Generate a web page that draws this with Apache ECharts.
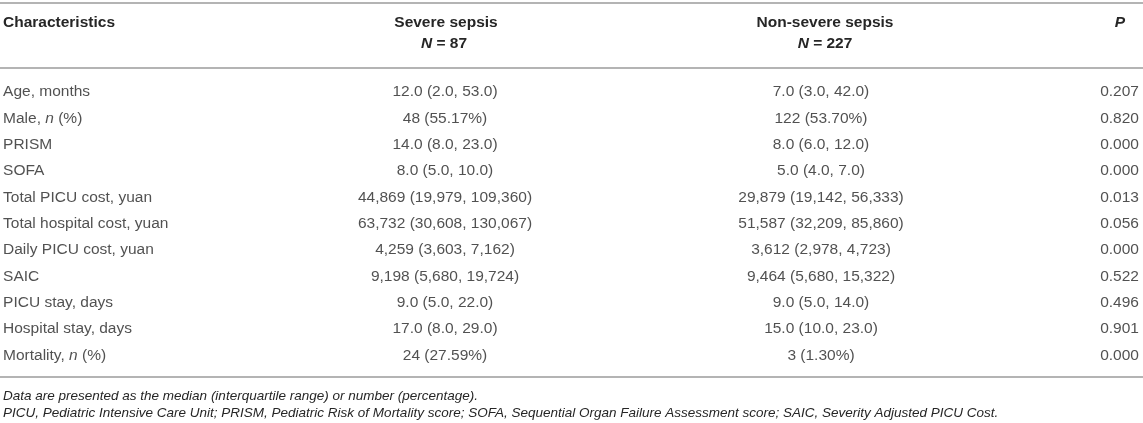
<!DOCTYPE html>
<html>
<head>
<meta charset="utf-8">
<script src="https://cdn.jsdelivr.net/npm/echarts/dist/echarts.min.js"></script>
<style>
html, body {margin: 0; padding: 0; background: #fff;}
#main {width: 1143px; height: 423px;}
</style>
</head>
<body>
<div id="main"></div>
<script>
// table contents
var rowNames = ['Age, months', 'Male, n (%)', 'PRISM', 'SOFA', 'Total PICU cost, yuan',
    'Total hospital cost, yuan', 'Daily PICU cost, yuan', 'SAIC', 'PICU stay, days',
    'Hospital stay, days', 'Mortality, n (%)'];
var severeValues = ['12.0 (2.0, 53.0)', '48 (55.17%)', '14.0 (8.0, 23.0)', '8.0 (5.0, 10.0)',
    '44,869 (19,979, 109,360)', '63,732 (30,608, 130,067)', '4,259 (3,603, 7,162)',
    '9,198 (5,680, 19,724)', '9.0 (5.0, 22.0)', '17.0 (8.0, 29.0)', '24 (27.59%)'];
var nonSevereValues = ['7.0 (3.0, 42.0)', '122 (53.70%)', '8.0 (6.0, 12.0)', '5.0 (4.0, 7.0)',
    '29,879 (19,142, 56,333)', '51,587 (32,209, 85,860)', '3,612 (2,978, 4,723)',
    '9,464 (5,680, 15,322)', '9.0 (5.0, 14.0)', '15.0 (10.0, 23.0)', '3 (1.30%)'];
var pValues = ['0.207', '0.820', '0.000', '0.000', '0.013', '0.056', '0.000', '0.522',
    '0.496', '0.901', '0.000'];
var groupNames = ['Severe sepsis', 'Non-severe sepsis'];
var groupSizes = ['87', '227'];
var notes = ['Data are presented as the median (interquartile range) or number (percentage).',
    'PICU, Pediatric Intensive Care Unit; PRISM, Pediatric Risk of Mortality score; SOFA, Sequential Organ Failure Assessment score; SAIC, Severity Adjusted PICU Cost.'];

var textColor = '#262626';
var ruleColor = '#b4b4b4';
var fontFamily = '"Liberation Sans", Arial, Helvetica, sans-serif';
var fontSize = 15.5;
var colX = [3, 445, 821, 1139]; // column anchors (px)

function cellSeries(values, x, pos) {
    return {
        type: 'scatter',
        symbolSize: 0.1,
        silent: true,
        itemStyle: {color: 'rgba(0,0,0,0)'},
        data: values.map(function (v, i) {
            return [x, rowNames[i]];
        }),
        label: {
            show: true,
            position: pos,
            distance: 0,
            color: textColor,
            fontSize: fontSize,
            fontFamily: fontFamily,
            formatter: function (p) {
                return values[p.dataIndex].replace(', n (', ', {i|n} (');
            },
            rich: {
                i: {fontStyle: 'italic', fontSize: fontSize, fontFamily: fontFamily, color: textColor}
            }
        }
    };
}

function headText(text, x, y, align, rich) {
    return {
        type: 'text',
        silent: true,
        style: {
            text: text, x: x, y: y,
            align: align, textAlign: align,
            verticalAlign: 'middle', textVerticalAlign: 'middle',
            fill: textColor,
            font: 'bold ' + fontSize + 'px ' + fontFamily,
            rich: rich
        }
    };
}

function rule(y) {
    return {
        type: 'line',
        silent: true,
        shape: {x1: 0, y1: y, x2: 1143, y2: y},
        style: {stroke: ruleColor, lineWidth: 2}
    };
}

var nRich = {
    n: {fontWeight: 'bold', fontStyle: 'italic', fontSize: fontSize, fontFamily: fontFamily, fill: textColor, color: textColor},
    b: {fontWeight: 'bold', fontSize: fontSize, fontFamily: fontFamily, fill: textColor, color: textColor}
};

var graphics = [
    rule(3), rule(68), rule(377),
    headText('Characteristics', 3, 23, 'left'),
    headText(groupNames[0], 446, 23, 'center'),
    headText('{n|N}{b| = ' + groupSizes[0] + '}', 444, 44, 'center', nRich),
    headText(groupNames[1], 825, 23, 'center'),
    headText('{n|N}{b| = ' + groupSizes[1] + '}', 825, 44, 'center', nRich),
    headText('{n|P}', 1125, 23, 'right', nRich)
];
notes.forEach(function (t, i) {
    graphics.push({
        type: 'text',
        silent: true,
        style: {
            text: t, x: 3, y: 396 + i * 17,
            align: 'left', textAlign: 'left',
            verticalAlign: 'middle', textVerticalAlign: 'middle',
            fill: textColor,
            font: 'italic 13.5px ' + fontFamily
        }
    });
});

var option = {
    animation: false,
    backgroundColor: '#fff',
    grid: {left: 0, right: 0, top: 79, height: 289.5},
    xAxis: {type: 'value', min: 0, max: 1143, show: false},
    yAxis: {type: 'category', data: rowNames, inverse: true, show: false},
    graphic: graphics,
    series: [
        cellSeries(rowNames, colX[0], 'right'),
        cellSeries(severeValues, colX[1], 'inside'),
        cellSeries(nonSevereValues, colX[2], 'inside'),
        cellSeries(pValues, colX[3], 'left')
    ]
};

var chart = echarts.init(document.getElementById('main'));
chart.setOption(option);
</script>
</body>
</html>
